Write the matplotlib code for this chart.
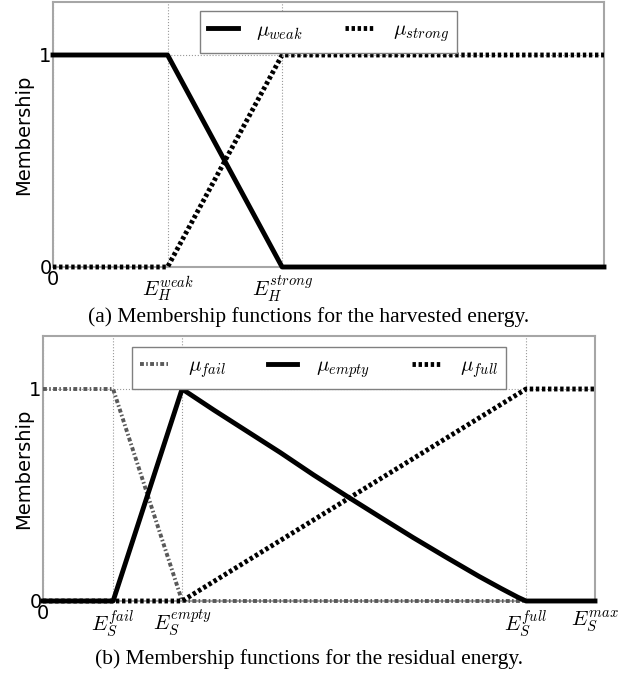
import matplotlib
matplotlib.use('Agg')
import matplotlib.pyplot as plt
import matplotlib.transforms as mtransforms

plt.rcParams['mathtext.fontset'] = 'cm'
plt.rcParams['font.family'] = 'DejaVu Sans'

############# data: harvested energy (a) ###############
h_ticks = [0, 1.0, 2.0]
h_ticklabels = ['0', r'$E_H^{weak}$', r'$E_H^{strong}$']
h_xmax = 4.81
h_weak_x = [0, 1.0, 2.0, 4.81]
h_weak_y = [1, 1, 0, 0]
h_strong_x = [0, 1.0, 2.0, 4.81]
h_strong_y = [0, 0, 1, 1]

############# data: residual energy (b) ###############
s_ticks = [0, 12.7, 25.2, 87.5, 100]
s_ticklabels = ['0', r'$E_S^{fail}$', r'$E_S^{empty}$', r'$E_S^{full}$', r'$E_S^{max}$']
s_fail_x = [0, 12.7, 25.2, 100]
s_fail_y = [1, 1, 0, 0]
s_empty_x = [0, 12.7, 25.2, 31, 37, 43, 49, 55, 61, 67, 73, 79, 83, 86, 87.5, 100]
s_empty_y = [0, 0, 1, 0.90, 0.80, 0.70, 0.595, 0.495, 0.397, 0.30, 0.207, 0.116, 0.059, 0.018, 0, 0]
s_full_x = [0, 25.2, 87.5, 100]
s_full_y = [0, 0, 1, 1]

W, H = 633, 675
fig = plt.figure(figsize=(W / 100, H / 100), dpi=100)


def px_axes(l, t, r, b):
    return fig.add_axes([l / W, 1 - b / H, (r - l) / W, (b - t) / H])


def style(ax, ticks, labels, xmax, ylab_x):
    ax.set_xlim(0, xmax)
    ax.set_ylim(0, 1.25)
    ax.set_xticks(ticks)
    ax.set_xticklabels(labels)
    ax.set_yticks([0, 1])
    ax.tick_params(length=0, labelsize=14, pad=1)
    ax.tick_params(axis='x', pad=2)
    # math labels sit a little lower, like the latex ones
    shift = mtransforms.ScaledTranslation(0, -5 / 100, fig.dpi_scale_trans)
    for t in ax.get_xticklabels()[1:]:
        t.set_fontsize(15)
        t.set_transform(t.get_transform() + shift)
    ax.grid(True, color='0.6', linestyle=':', linewidth=0.8)
    ax.set_axisbelow(True)
    for s in ax.spines.values():
        s.set_color('0.65')
        s.set_linewidth(1.5)
    ax.set_ylabel('Membership', fontsize=14)
    ax.yaxis.set_label_coords(ylab_x, 0.5)


lw = 3.5
dot = (0, (0.7, 0.55))

##### panel (a) #####
ax1 = px_axes(53, 2, 604, 267)
ax1.plot(h_weak_x, h_weak_y, color='black', lw=lw, label=r'$\mu_{weak}$', clip_on=False, zorder=3)
ax1.plot(h_strong_x, h_strong_y, color='black', lw=lw, linestyle=dot, label=r'$\mu_{strong}$', clip_on=False, zorder=3)
style(ax1, h_ticks, h_ticklabels, h_xmax, -0.036)
leg = ax1.legend(loc='upper center', ncol=2, fontsize=15, fancybox=False, framealpha=1,
                 edgecolor='0.5', handlelength=1.4, handletextpad=0.9, columnspacing=2.0,
                 borderaxespad=0.45)
leg.get_frame().set_linewidth(1.0)

##### panel (b) #####
ax2 = px_axes(43, 336, 595, 601)
ax2.plot(s_fail_x, s_fail_y, color='0.35', lw=2.8, linestyle=(0, (1.0, 0.6, 0.4, 0.6)),
         label=r'$\mu_{fail}$', clip_on=False, zorder=3)
ax2.plot(s_empty_x, s_empty_y, color='black', lw=lw, label=r'$\mu_{empty}$', clip_on=False, zorder=3)
ax2.plot(s_full_x, s_full_y, color='black', lw=lw, linestyle=dot, label=r'$\mu_{full}$', clip_on=False, zorder=3)
style(ax2, s_ticks, s_ticklabels, 100, -0.018)
leg = ax2.legend(loc='upper center', ncol=3, fontsize=15, fancybox=False, framealpha=1,
                 edgecolor='0.5', handlelength=1.4, handletextpad=0.9, columnspacing=2.0,
                 borderaxespad=0.55)
leg.get_frame().set_linewidth(1.0)

##### captions #####
fig.text(309 / W, 1 - 317 / H, '(a) Membership functions for the harvested energy.',
         ha='center', va='center', fontsize=15.5, family='Liberation Serif')
fig.text(309 / W, 1 - 659 / H, '(b) Membership functions for the residual energy.',
         ha='center', va='center', fontsize=15.5, family='Liberation Serif')

fig.savefig('out.png', dpi=100)
